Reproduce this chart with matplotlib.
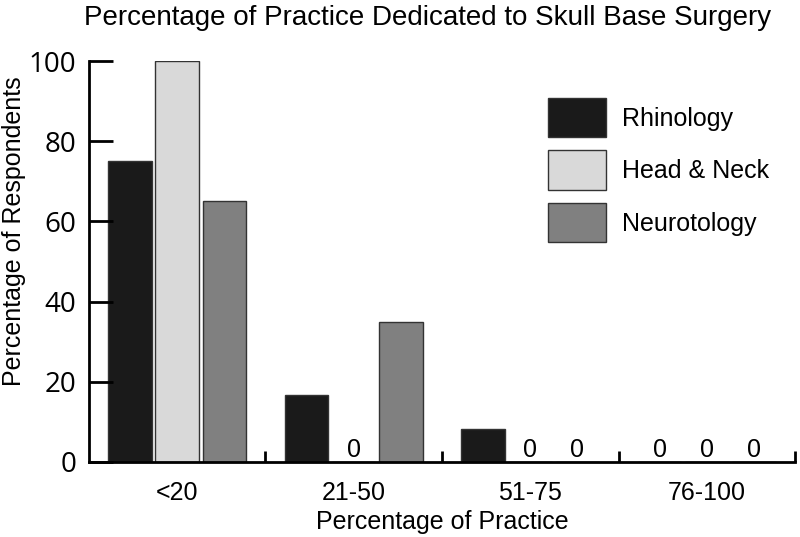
import numpy as np
import matplotlib.pyplot as plt
from matplotlib.ticker import FixedLocator

# data
groups = ["<20", "21-50", "51-75", "76-100"]
rhinology = [75, 16.7, 8.3, 0]
head_neck = [100, 0, 0, 0]
neurotology = [65, 35, 0, 0]
series_names = ["Rhinology", "Head & Neck", "Neurotology"]
colors = ["#1a1a1a", "#d9d9d9", "#808080"]

plt.rcParams["font.family"] = ["Liberation Sans", "DejaVu Sans"]

fig = plt.figure(figsize=(8, 5.37), dpi=100)
ax = fig.add_axes([0.111, 0.1397, 0.883, 0.7467])

x = np.arange(len(groups))
width = 0.246
step = 0.267
for i, (vals, name, col) in enumerate(zip([rhinology, head_neck, neurotology], series_names, colors)):
    pos = x + (i - 1) * step
    ax.bar(pos, vals, width, color=col, edgecolor="#333333", linewidth=1.0, label=name)
    # zero-height bars get a "0" label instead
    for p, v in zip(pos, vals):
        if v == 0:
            ax.text(p, 1.25, "0", ha="center", va="baseline", fontsize=18)

ax.set_xlim(-0.5, 3.5)
ax.set_ylim(0, 100)
ax.set_xticks(x)
ax.set_xticklabels(groups, fontsize=18)
ax.tick_params(axis="x", which="major", length=0, pad=14)
ax.xaxis.set_minor_locator(FixedLocator([0.5, 1.5, 2.5, 3.5]))
ax.tick_params(axis="x", which="minor", direction="in", length=8, width=2)

ax.set_yticks([0, 20, 40, 60, 80, 100])
ax.tick_params(axis="y", direction="in", length=17, width=2, pad=9)
for lab in ax.get_yticklabels():
    lab.set_fontfamily(["Open Sans", "DejaVu Sans"])
    lab.set_fontsize(20)

for s in ["top", "right"]:
    ax.spines[s].set_visible(False)
ax.spines["left"].set_linewidth(2)
ax.spines["bottom"].set_linewidth(2)

ax.set_xlabel("Percentage of Practice", fontsize=18, labelpad=3)
ax.set_ylabel("Percentage of Respondents", fontsize=18)
ax.yaxis.set_label_coords(-0.089, 0.575)

fig.suptitle("Percentage of Practice Dedicated to Skull Base Surgery", fontsize=20, x=0.535, y=0.99)

ax.legend(loc="upper left", bbox_to_anchor=(548 / 800, 1 - 98 / 537), bbox_transform=fig.transFigure,
          frameon=False, fontsize=18, handlelength=2.32, handleheight=2.05, labelspacing=0.52,
          handletextpad=0.64, borderpad=0, borderaxespad=0)

fig.savefig("out.png", dpi=100)
